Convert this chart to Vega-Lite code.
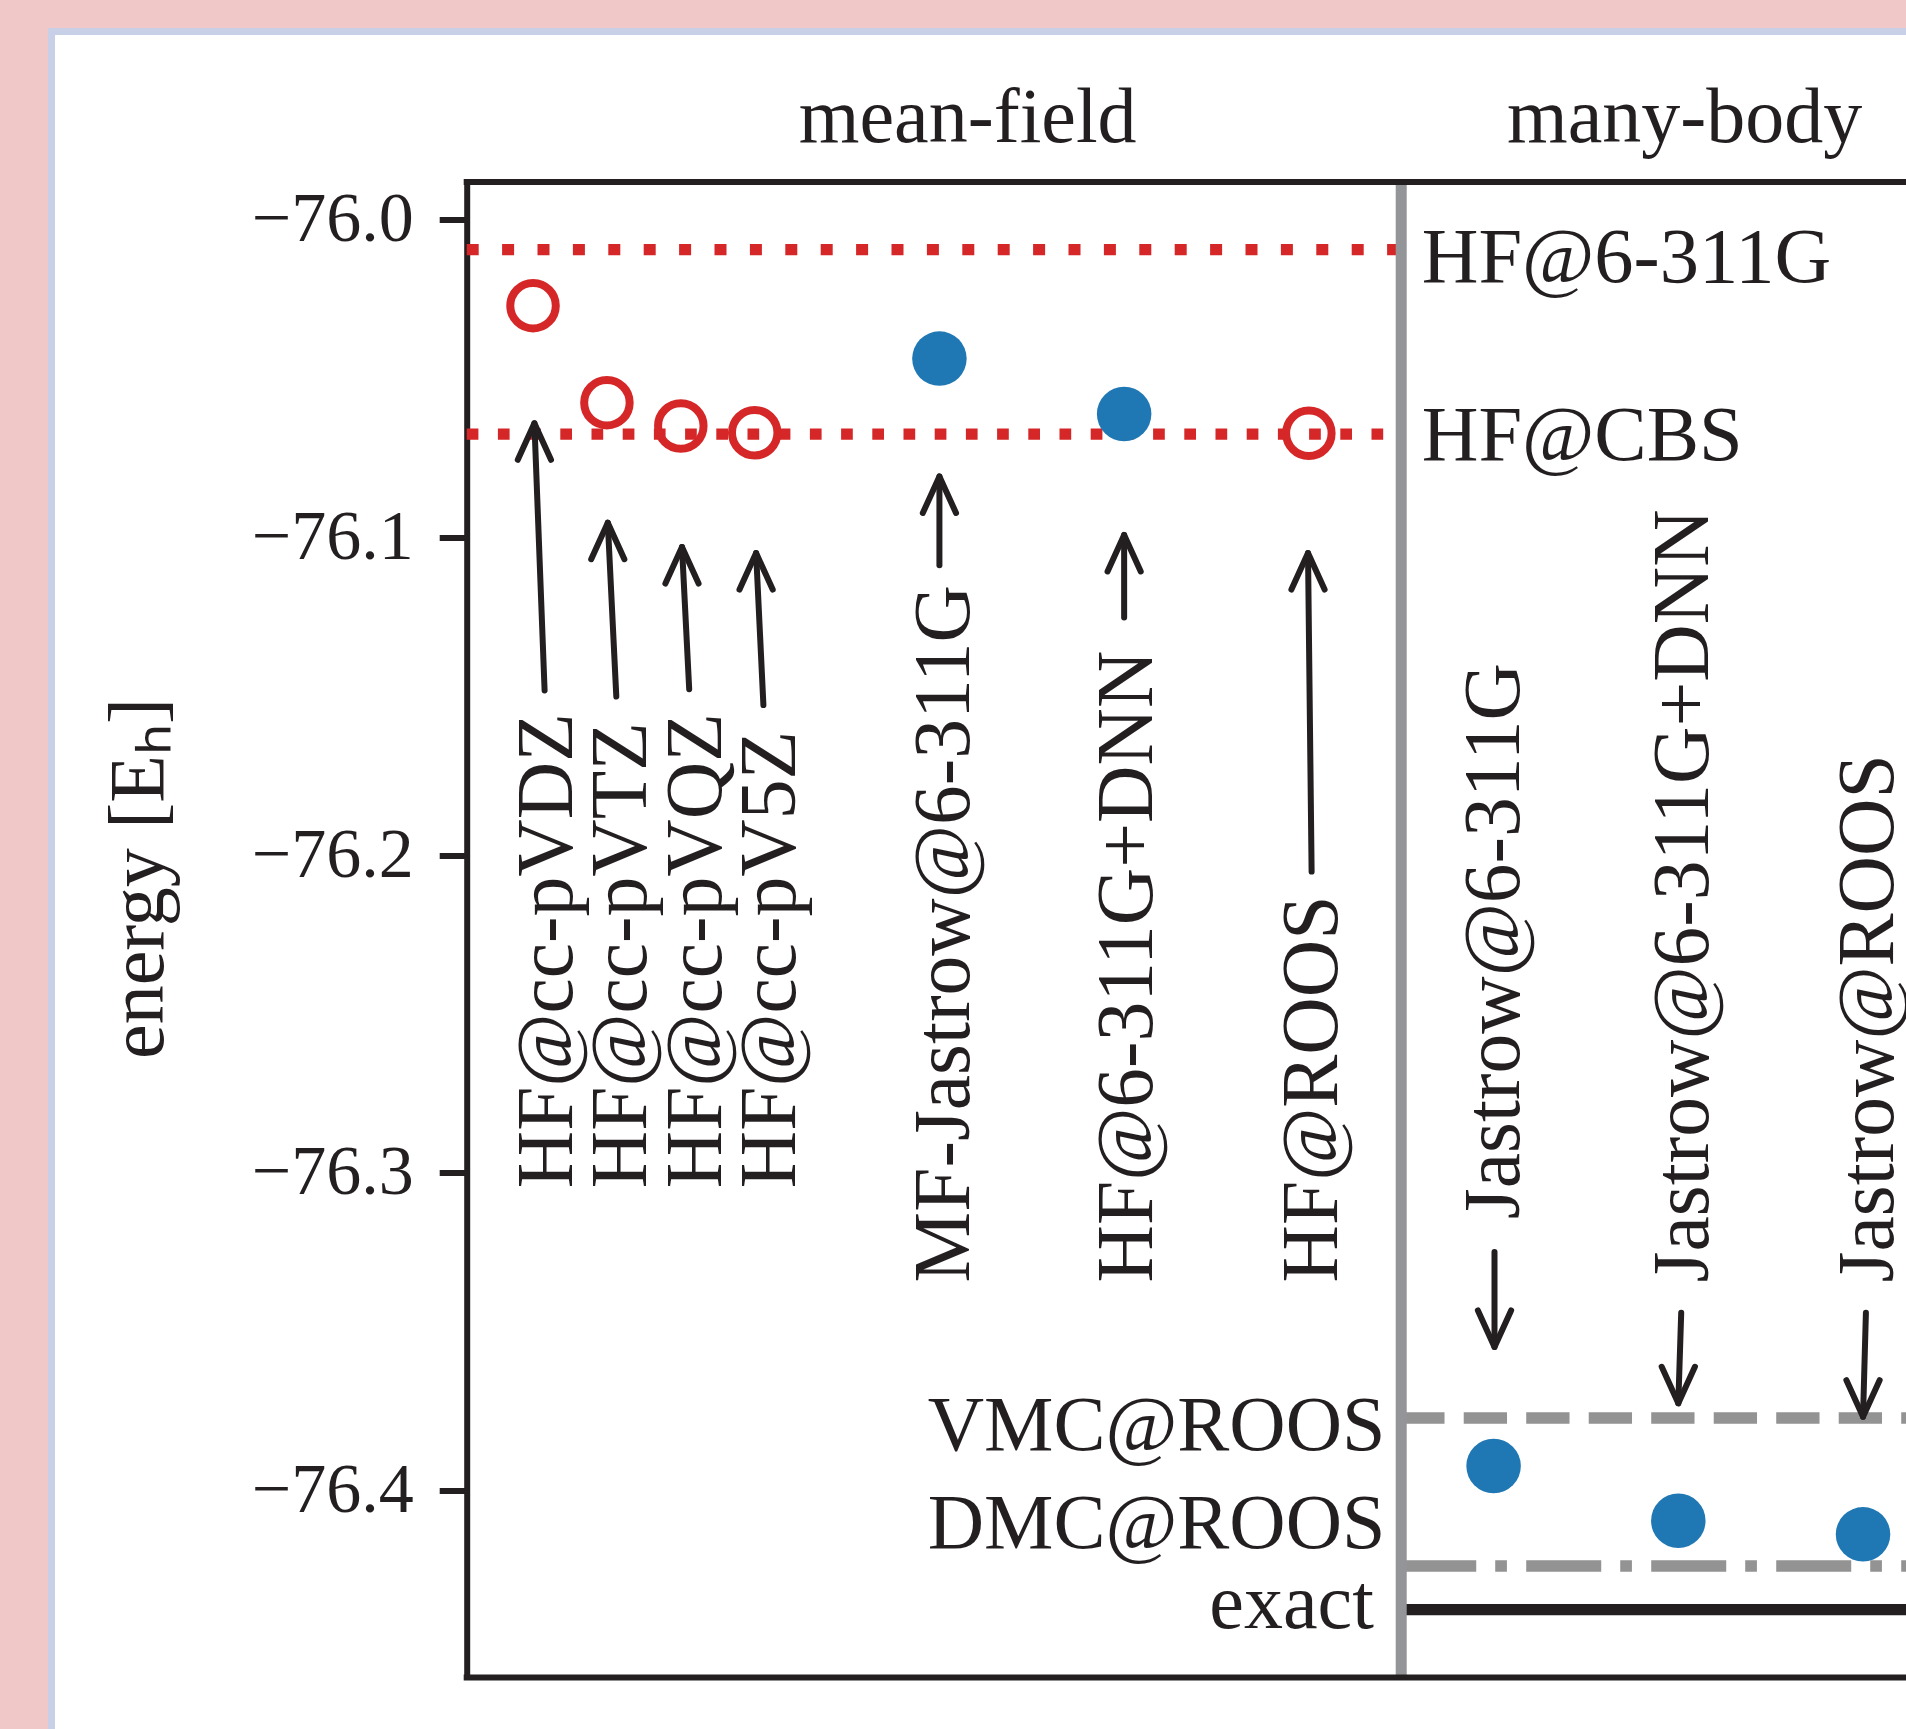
{
  "$schema": "https://vega.github.io/schema/vega-lite/v6.json",
  "width": 1858.5,
  "height": 1701.5,
  "autosize": {"type": "none"},
  "padding": {"left": 51.5, "top": 31.5, "right": -4, "bottom": -4},
  "background": "#f0c8c8",
  "config": {
    "view": {"fill": "white", "stroke": "#c8d0e8", "strokeWidth": 7},
    "font": "Liberation Serif"
  },
  "datasets": {
    "points": [
      {"name": "HF@cc-pVDZ", "x": -1.2, "y": -76.02707, "kind": "open"},
      {"name": "HF@cc-pVTZ", "x": -0.8, "y": -76.05761, "kind": "open"},
      {"name": "HF@cc-pVQZ", "x": -0.4, "y": -76.06495, "kind": "open"},
      {"name": "HF@cc-pV5Z", "x": 0.0, "y": -76.06706, "kind": "open"},
      {"name": "MF-Jastrow@6-311G", "x": 1, "y": -76.04373, "kind": "filled"},
      {"name": "HF@6-311G+DNN", "x": 2, "y": -76.06117, "kind": "filled"},
      {"name": "HF@ROOS", "x": 3, "y": -76.06724, "kind": "open"},
      {"name": "Jastrow@6-311G", "x": 4, "y": -76.39235, "kind": "filled"},
      {"name": "Jastrow@6-311G+DNN", "x": 5, "y": -76.40957, "kind": "filled"},
      {"name": "Jastrow@ROOS", "x": 6, "y": -76.41385, "kind": "filled"}
    ],
    "refs": [
      {"name": "HF@6-311G", "x": -1.5591, "x2": 3.5, "y": -76.00944},
      {"name": "HF@CBS", "x": -1.5591, "x2": 3.5, "y": -76.06753},
      {"name": "VMC@ROOS", "x": 3.5, "x2": 6.3, "y": -76.37724},
      {"name": "DMC@ROOS", "x": 3.5, "x2": 6.3, "y": -76.42383},
      {"name": "exact", "x": 3.5, "x2": 6.3, "y": -76.43759}
    ],
    "divider": [{"x": 3.5, "y": -75.98813, "y2": -76.45893}],
    "frame": [
      {"part": "top", "x": -1.5591, "x2": 6.3, "y": -75.98813},
      {"part": "bottom", "x": -1.5591, "x2": 6.3, "y": -76.45893}
    ],
    "arrows": [
      {"x": -1.1374, "y": -76.14821, "x2": -1.1926, "y2": -76.0641, "dir": "up"},
      {"x": -0.7492, "y": -76.1501, "x2": -0.7953, "y2": -76.09539, "dir": "up"},
      {"x": -0.3546, "y": -76.1478, "x2": -0.3936, "y2": -76.10304, "dir": "up"},
      {"x": 0.0471, "y": -76.15278, "x2": 0.0076, "y2": -76.10496, "dir": "up"},
      {"x": 1, "y": -76.1088, "x2": 1, "y2": -76.08084, "dir": "up"},
      {"x": 2, "y": -76.12523, "x2": 2, "y2": -76.09923, "dir": "up"},
      {"x": 3.0149, "y": -76.20523, "x2": 2.9954, "y2": -76.10496, "dir": "up"},
      {"x": 4.005, "y": -76.32498, "x2": 4.005, "y2": -76.35486, "dir": "down"},
      {"x": 5.0157, "y": -76.34412, "x2": 5.0, "y2": -76.37261, "dir": "down"},
      {"x": 6.0156, "y": -76.34412, "x2": 6.0, "y2": -76.37683, "dir": "down"}
    ],
    "vlabels": [
      {"label": "HF@cc-pVDZ", "x": -0.9896, "y": -76.30492},
      {"label": "HF@cc-pVTZ", "x": -0.5863, "y": -76.30492},
      {"label": "HF@cc-pVQZ", "x": -0.1851, "y": -76.30492},
      {"label": "HF@cc-pV5Z", "x": 0.2187, "y": -76.30492},
      {"label": "MF-Jastrow@6-311G", "x": 1.159, "y": -76.33458},
      {"label": "HF@6-311G+DNN", "x": 2.153, "y": -76.33458},
      {"label": "HF@ROOS", "x": 3.153, "y": -76.33458},
      {"label": "Jastrow@6-311G", "x": 4.14, "y": -76.31466},
      {"label": "Jastrow@6-311G+DNN", "x": 5.161, "y": -76.33458},
      {"label": "Jastrow@ROOS", "x": 6.161, "y": -76.33458}
    ],
    "rlabels": [
      {"label": "HF@6-311G", "x": 3.6108, "y": -76.01952},
      {"label": "HF@CBS", "x": 3.6108, "y": -76.07565}
    ],
    "llabels": [
      {"label": "VMC@ROOS", "x": 3.4143, "y": -76.38731},
      {"label": "DMC@ROOS", "x": 3.4143, "y": -76.41826},
      {"label": "exact", "x": 3.3521, "y": -76.44344}
    ],
    "headers": [
      {"label": "mean-field", "x": 1.1531, "y": -75.97544},
      {"label": "many-body", "x": 5.0346, "y": -75.97544}
    ]
  },
  "encoding": {
    "x": {
      "field": "x",
      "type": "quantitative",
      "scale": {"domain": [-1.5591, 6.2543], "range": [415.2, 1858.5], "nice": false, "zero": false},
      "axis": null
    },
    "y": {
      "field": "y",
      "type": "quantitative",
      "scale": {"domain": [-76.45893, -75.98813], "range": [1646, 150.5], "nice": false, "zero": false},
      "title": "energy [Eₕ]",
      "axis": {
        "orient": "left",
        "offset": -415.2,
        "values": [-76.4, -76.3, -76.2, -76.1, -76.0],
        "format": ".1f",
        "grid": false,
        "domain": true,
        "domainColor": "#231f20",
        "domainWidth": 6,
        "ticks": true,
        "tickColor": "#231f20",
        "tickWidth": 6,
        "tickSize": 27.5,
        "labelFont": "Liberation Serif",
        "labelFontSize": 70,
        "labelColor": "#231f20",
        "labelPadding": 26,
        "labelFlush": false,
        "labelOverlap": false,
        "titleFont": "Liberation Serif",
        "titleFontSize": 78,
        "titleFontWeight": "normal",
        "titleColor": "#231f20",
        "titlePadding": 88,
        "titleY": 846.5
      }
    }
  },
  "layer": [
    {
      "data": {"name": "refs"},
      "mark": {"type": "rule", "strokeWidth": 11.3},
      "encoding": {
        "x2": {"field": "x2"},
        "color": {
          "field": "name",
          "type": "nominal",
          "scale": {"domain": ["HF@6-311G", "HF@CBS", "VMC@ROOS", "DMC@ROOS", "exact"], "range": ["#d62728", "#d62728", "#939393", "#939393", "#231f20"]},
          "legend": null
        },
        "strokeDash": {
          "field": "name",
          "type": "nominal",
          "scale": {"domain": ["HF@6-311G", "HF@CBS", "VMC@ROOS", "DMC@ROOS", "exact"], "range": [[12, 23.4], [11.7, 19.5], [43.3, 19.2], [75, 19, 11.7, 19.3], [1, 0]]},
          "legend": null
        }
      }
    },
    {
      "data": {"name": "divider"},
      "mark": {"type": "rule", "strokeWidth": 11, "color": "#939598"},
      "encoding": {"y2": {"field": "y2"}}
    },
    {
      "data": {"name": "arrows"},
      "mark": {"type": "rule", "strokeWidth": 6, "color": "#231f20", "strokeCap": "round"},
      "encoding": {"x2": {"field": "x2"}, "y2": {"field": "y2"}}
    },
    {
      "data": {"name": "arrows"},
      "transform": [{"filter": "datum.dir === 'up'"}],
      "mark": {"type": "point", "shape": "M-0.455,1L0,0L0.455,1", "size": 5329, "filled": false, "stroke": "#231f20", "strokeWidth": 6, "strokeCap": "round", "strokeJoin": "round", "opacity": 1},
      "encoding": {
        "x": {"field": "x2", "type": "quantitative"},
        "y": {"field": "y2", "type": "quantitative", "title": "energy [Eₕ]"}
      }
    },
    {
      "data": {"name": "arrows"},
      "transform": [{"filter": "datum.dir === 'down'"}],
      "mark": {"type": "point", "shape": "M-0.455,1L0,0L0.455,1", "size": 5329, "angle": 180, "filled": false, "stroke": "#231f20", "strokeWidth": 6, "strokeCap": "round", "strokeJoin": "round", "opacity": 1},
      "encoding": {
        "x": {"field": "x2", "type": "quantitative"},
        "y": {"field": "y2", "type": "quantitative", "title": "energy [Eₕ]"}
      }
    },
    {
      "data": {"name": "points"},
      "transform": [{"filter": "datum.kind === 'open'"}],
      "mark": {"type": "point", "shape": "circle", "size": 2070, "filled": false, "stroke": "#d62728", "strokeWidth": 8, "opacity": 1}
    },
    {
      "data": {"name": "points"},
      "transform": [{"filter": "datum.kind === 'filled'"}],
      "mark": {"type": "point", "shape": "circle", "size": 2970, "filled": true, "fill": "#1f77b4", "strokeWidth": 0, "opacity": 1}
    },
    {
      "data": {"name": "vlabels"},
      "mark": {"type": "text", "angle": 270, "align": "left", "baseline": "alphabetic", "font": "Liberation Serif", "fontSize": 79.5, "fill": "#231f20"},
      "encoding": {"text": {"field": "label"}}
    },
    {
      "data": {"name": "rlabels"},
      "mark": {"type": "text", "align": "left", "baseline": "alphabetic", "font": "Liberation Serif", "fontSize": 78.5, "fill": "#231f20"},
      "encoding": {"text": {"field": "label"}}
    },
    {
      "data": {"name": "llabels"},
      "mark": {"type": "text", "align": "right", "baseline": "alphabetic", "font": "Liberation Serif", "fontSize": 78, "fill": "#231f20"},
      "encoding": {"text": {"field": "label"}}
    },
    {
      "data": {"name": "headers"},
      "mark": {"type": "text", "align": "center", "baseline": "alphabetic", "font": "Liberation Serif", "fontSize": 78, "fill": "#231f20"},
      "encoding": {"text": {"field": "label"}}
    },
    {
      "data": {"name": "frame"},
      "mark": {"type": "rule", "strokeWidth": 6, "color": "#231f20", "strokeCap": "square"},
      "encoding": {"x2": {"field": "x2"}}
    }
  ]
}
